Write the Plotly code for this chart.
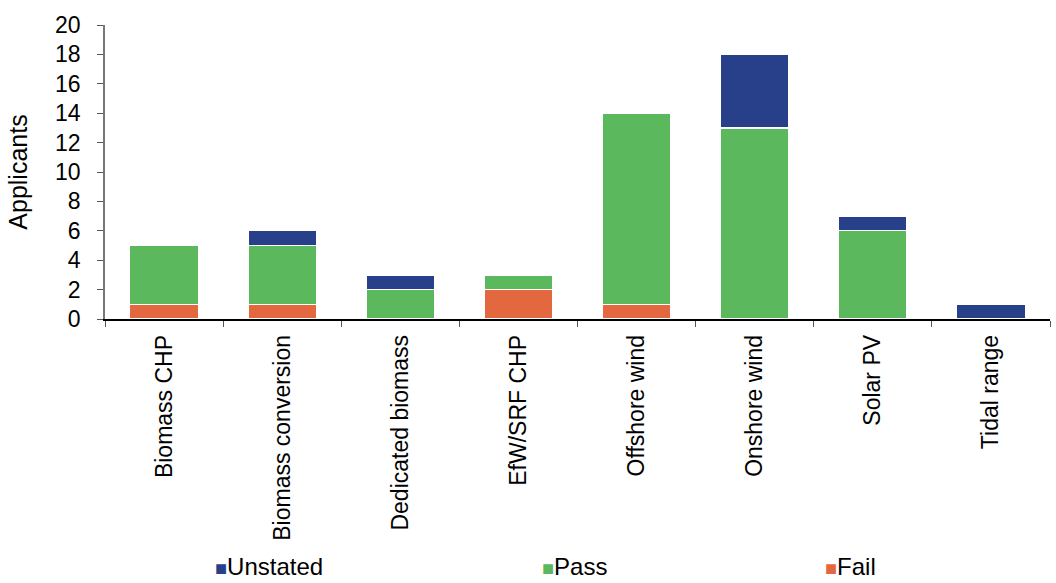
import plotly.graph_objects as go

categories = ["Biomass CHP", "Biomass conversion", "Dedicated biomass", "EfW/SRF CHP",
              "Offshore wind", "Onshore wind", "Solar PV", "Tidal range"]
fail = [1, 1, 0, 2, 1, 0, 0, 0]
passed = [4, 4, 2, 1, 13, 13, 6, 0]
unstated = [0, 1, 1, 0, 0, 5, 1, 1]

series = [
    ("Fail", fail, "#E4683F"),
    ("Pass", passed, "#5CB85C"),
    ("Unstated", unstated, "#283F8A"),
]
# legend order and horizontal position (paper x) of each key
legend_keys = [("Unstated", "#283F8A", 0.1146), ("Pass", "#5CB85C", 0.4603), ("Fail", "#E4683F", 0.7598)]

font = "Liberation Sans, Arial, sans-serif"
fs = 23
fig = go.Figure()
for name, vals, color in series:
    fig.add_trace(go.Bar(
        x=categories, y=vals, name=name, showlegend=False,
        marker=dict(color=color, line=dict(color="white", width=1.2)),
        width=0.58,
    ))

for name, color, px in legend_keys:
    fig.add_annotation(
        x=px, y=-0.843, xref="paper", yref="paper", xanchor="left", yanchor="middle",
        showarrow=False,
        text=f"<span style='color:{color};font-size:20px'>■</span>{name}",
        font=dict(family=font, size=24, color="black"),
    )

fig.update_layout(
    barmode="stack",
    width=1056, height=583,
    margin=dict(l=105, r=6, t=25, b=264),
    paper_bgcolor="white", plot_bgcolor="white",
    font=dict(family=font, size=fs, color="black"),
    showlegend=False,
)
fig.update_xaxes(
    showline=True, linecolor="black", linewidth=1.5, automargin=False,
    ticks="outside", tickson="boundaries", ticklen=6, tickcolor="#555",
    tickangle=-90, showgrid=False, tickfont=dict(size=fs), ticklabelstandoff=5,
)
fig.update_yaxes(
    range=[0, 20], dtick=2, showline=True, linecolor="#777", linewidth=1.5, automargin=False,
    ticks="outside", ticklen=6, tickcolor="#555", showgrid=False, zeroline=False,
    title=dict(text="Applicants", font=dict(size=25), standoff=20),
    tickfont=dict(size=fs), ticklabelstandoff=12,
)
fig.write_html("out.html")
